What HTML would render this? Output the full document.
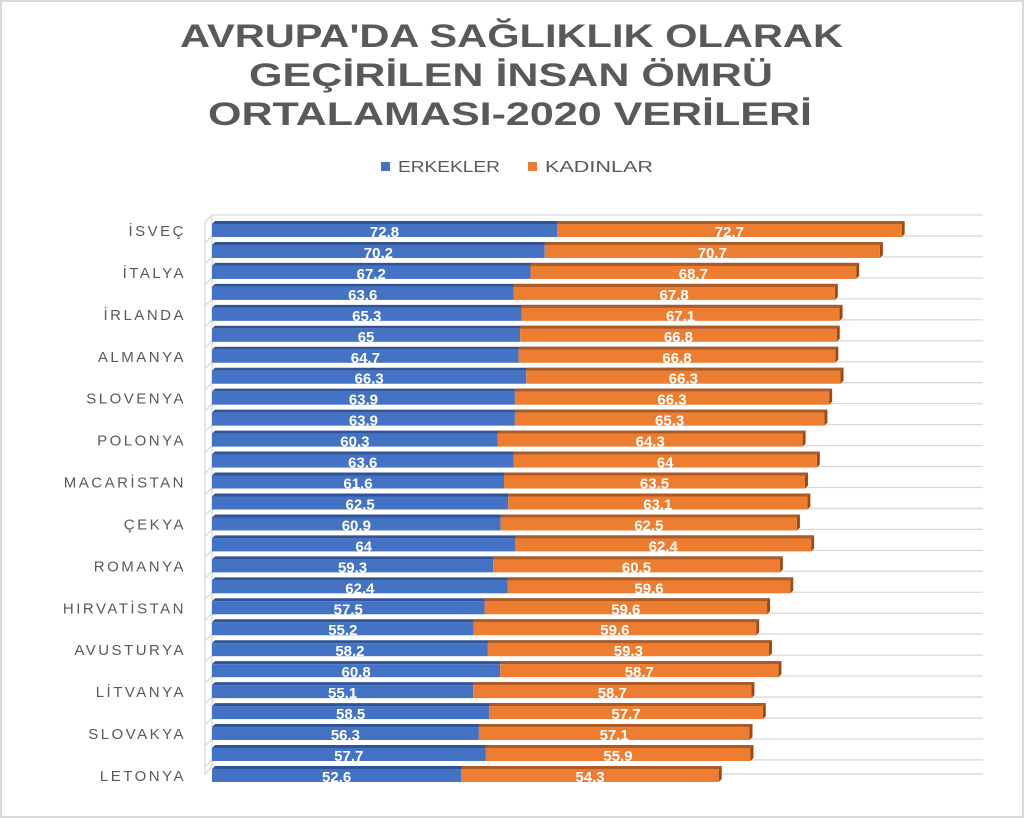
<!DOCTYPE html>
<html><head><meta charset="utf-8"><style>
html,body{margin:0;padding:0;background:#fff;}
svg{display:block;}
</style></head><body>
<svg id="s" width="1024" height="818" xmlns="http://www.w3.org/2000/svg">
<rect x="1" y="1" width="1022" height="816" fill="#fff" stroke="#d9d9d9" stroke-width="2"/>
<g font-family="'Liberation Sans Narrow','Liberation Sans',sans-serif" font-weight="bold" fill="#595959" font-size="32">
<text x="180" y="47" textLength="663" lengthAdjust="spacingAndGlyphs">AVRUPA'DA SAĞLIKLIK OLARAK</text>
<text x="249" y="86" textLength="524" lengthAdjust="spacingAndGlyphs">GEÇİRİLEN İNSAN ÖMRÜ</text>
<text x="208" y="125" textLength="604" lengthAdjust="spacingAndGlyphs">ORTALAMASI-2020 VERİLERİ</text>
</g>
<rect x="381" y="162" width="9" height="9" fill="#4472c4"/>
<text x="398" y="172" font-family="'Liberation Sans Narrow','Liberation Sans',sans-serif" font-size="16" fill="#595959" textLength="102" lengthAdjust="spacingAndGlyphs">ERKEKLER</text>
<rect x="528" y="162" width="9" height="9" fill="#ed7d31"/>
<text x="545" y="172" font-family="'Liberation Sans Narrow','Liberation Sans',sans-serif" font-size="16" fill="#595959" textLength="108" lengthAdjust="spacingAndGlyphs">KADINLAR</text>
<g id="g"></g>
</svg>
<script>
var m=[72.8,70.2,67.2,63.6,65.3,65,64.7,66.3,63.9,63.9,60.3,63.6,61.6,62.5,60.9,64,59.3,62.4,57.5,55.2,58.2,60.8,55.1,58.5,56.3,57.7,52.6];
var f=[72.7,70.7,68.7,67.8,67.1,66.8,66.8,66.3,66.3,65.3,64.3,64,63.5,63.1,62.5,62.4,60.5,59.6,59.6,59.6,59.3,58.7,58.7,57.7,57.1,55.9,54.3];
var names=["İSVEÇ","İTALYA","İRLANDA","ALMANYA","SLOVENYA","POLONYA","MACARİSTAN","ÇEKYA","ROMANYA","HIRVATİSTAN","AVUSTURYA","LİTVANYA","SLOVAKYA","LETONYA"];
var p=20.96,x0=212,k=4.74,h="";
for(var i=0;i<=26;i++){var y=215+i*p;
 h+='<polyline points="205,'+(y+7)+' 212,'+y+' 983,'+y+'" fill="none" stroke="#d9d9d9" stroke-width="1.3"/>';}
h+='<polyline points="212,215 212,'+(215+26*p+7)+' 205,'+(215+26*p+14)+' 205,222" fill="none" stroke="#d9d9d9" stroke-width="1.3"/>';
h+='<line x1="212" y1="'+(215+27*p-7)+'" x2="983" y2="'+(215+27*p-7)+'" stroke="#d9d9d9" stroke-width="1.3"/>';
for(var i=0;i<27;i++){
 var y=224+i*p,bh=13,a=x0+m[i]*k,b=a+f[i]*k;
 h+='<polygon points="'+(x0+3)+','+(y-3)+' '+(b+3)+','+(y-3)+' '+b+','+y+' '+x0+','+y+'" fill="#2f5597"/>';
 h+='<polygon points="'+(a)+','+(y-3)+' '+(b+3)+','+(y-3)+' '+b+','+y+' '+a+','+y+'" fill="#ae5a21"/>';
 h+='<polygon points="'+b+','+y+' '+(b+3)+','+(y-3)+' '+(b+3)+','+(y+bh-3)+' '+b+','+(y+bh)+'" fill="#9c4a14"/>';
 h+='<rect x="'+x0+'" y="'+y+'" width="'+(a-x0)+'" height="'+bh+'" fill="#4472c4"/>';
 h+='<rect x="'+a+'" y="'+y+'" width="'+(b-a)+'" height="'+bh+'" fill="#ed7d31"/>';
 h+='<text x="'+((x0+a)/2)+'" y="'+(y+13)+'" text-anchor="middle" font-family="Liberation Sans,sans-serif" font-weight="bold" font-size="15" fill="#fff">'+m[i]+'</text>';
 h+='<text x="'+((a+b)/2)+'" y="'+(y+13)+'" text-anchor="middle" font-family="Liberation Sans,sans-serif" font-weight="bold" font-size="15" fill="#fff">'+f[i]+'</text>';
 if(i%2==0){h+='<text x="186" y="'+(y+12)+'" text-anchor="end" font-family="Liberation Sans,sans-serif" font-size="15" letter-spacing="2.5" fill="#595959">'+names[i/2]+'</text>';}
}
document.getElementById('g').innerHTML=h;
</script>
</body></html>
